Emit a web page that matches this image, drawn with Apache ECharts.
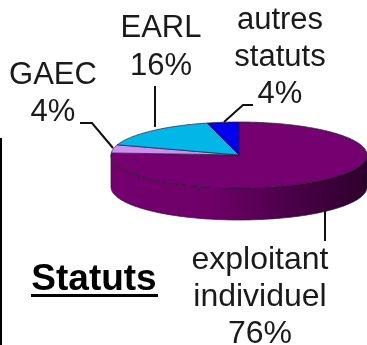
<!DOCTYPE html>
<html><head><meta charset="utf-8">
<style>html,body{margin:0;padding:0;background:#fff}#c{width:367px;height:345px}</style>
<script src="https://cdn.jsdelivr.net/npm/echarts@6/dist/echarts.min.js"></script>
</head><body><div id="c"></div>
<script>
const categories = ['exploitant individuel', 'GAEC', 'EARL', 'autres statuts'];
const values = [76, 4, 16, 4];
const sliceColors = ['#75006F', '#CC8FEF', '#00B7E8', '#0000EE'];
const labelLines = [['exploitant', 'individuel', '76%'], ['GAEC', '4%'], ['EARL', '16%'], ['autres', 'statuts', '4%']];
const titleText = 'Statuts';

const cx = 239, cy = 155, rx = 128, ry = 33, depth = 32;
const total = values.reduce((a, b) => a + b, 0);
function pt(a, dy) { return [cx + rx * Math.sin(a), cy + (dy || 0) - ry * Math.cos(a)]; }

function renderSlice(params, api) {
  const i = params.dataIndex;
  let before = 0;
  for (let k = 0; k < i; k++) before += values[k];
  const a0 = before / total * 2 * Math.PI;
  const a1 = (before + api.value(0)) / total * 2 * Math.PI;
  const pts = [[cx, cy]];
  const n = Math.max(4, Math.ceil((a1 - a0) * 60));
  for (let k = 0; k <= n; k++) pts.push(pt(a0 + (a1 - a0) * k / n));
  return {
    type: 'polygon',
    shape: { points: pts },
    style: { fill: sliceColors[i], stroke: '#2a1a3a', lineWidth: 0.7 }
  };
}
function renderSide() {
  const pts = [];
  for (let k = 0; k <= 120; k++) pts.push(pt(Math.PI / 2 + Math.PI * k / 120));
  for (let k = 120; k >= 0; k--) pts.push(pt(Math.PI / 2 + Math.PI * k / 120, depth));
  return {
    type: 'polygon',
    shape: { points: pts },
    style: {
      fill: new echarts.graphic.LinearGradient(0, 0, 1, 0, [
        { offset: 0, color: '#74006E' },
        { offset: 0.4, color: '#6E0068' },
        { offset: 0.7, color: '#4A0048' },
        { offset: 1, color: '#2E002C' }
      ]),
      stroke: '#2a1a3a', lineWidth: 0.7
    }
  };
}

const labelFont = { fontFamily: 'Liberation Sans', fill: '#1a1a1a', textAlign: 'center', textVerticalAlign: 'middle' };
function stacked(lines, x, y0, step, size) {
  return lines.map((t, i) => ({ type: 'text', style: Object.assign({}, labelFont, { text: t, x: x, y: y0 + i * step, fontSize: size }), z: 5 }));
}
function leader(points) {
  return { type: 'polyline', shape: { points: points }, style: { stroke: '#111', lineWidth: 2, fill: null }, z: 4 };
}

const graphics = [
  { type: 'rect', shape: { x: 0, y: 138, width: 2, height: 207 }, style: { fill: '#000' } },
  ...stacked(labelLines[0], 260, 260, 37, 32),
  ...stacked(labelLines[1], 53, 75, 37, 31),
  ...stacked(labelLines[2], 161, 28, 38, 31),
  ...stacked(labelLines[3], 280, 20, 37, 31),
  leader([[80, 123], [92, 123], [113, 148]]),
  leader([[155, 86], [155, 127]]),
  leader([[253, 105], [243, 105], [224, 122]]),
  leader([[325, 211], [325, 241]]),
  { type: 'text', style: { text: titleText, x: 94, y: 280, fontFamily: 'Liberation Sans', fontWeight: 'bold', fontSize: 37, fill: '#000', textAlign: 'center', textVerticalAlign: 'middle' }, z: 5 },
  { type: 'rect', shape: { x: 31, y: 294, width: 127, height: 3 }, style: { fill: '#000' }, z: 5 }
];

const chart = echarts.init(document.getElementById('c'), null, { renderer: 'canvas' });
chart.setOption({
  backgroundColor: '#fff',
  animation: false,
  graphic: graphics,
  series: [
    { type: 'custom', coordinateSystem: 'none', silent: true, z: 1, renderItem: renderSide, data: [[1]] },
    { type: 'custom', coordinateSystem: 'none', silent: true, z: 2, renderItem: renderSlice,
      encode: { value: 0, itemName: 1 },
      data: values.map((v, i) => ({ value: [v], name: categories[i] })) }
  ]
});
</script></body></html>
